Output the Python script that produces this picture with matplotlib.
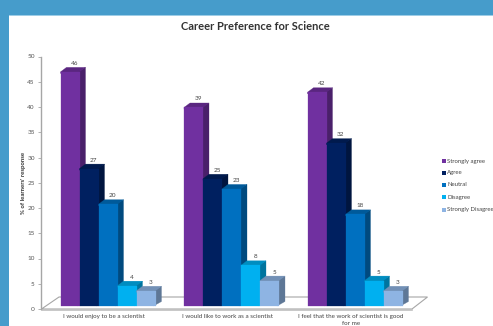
import matplotlib
matplotlib.use("Agg")
import matplotlib.pyplot as plt
from matplotlib.patches import Polygon, Rectangle
from matplotlib.colors import to_rgb

W, H = 493, 326

questions = ["I would enjoy to be a scientist",
             "I would like to work as a scientist",
             "I feel that the work of scientist is good\nfor me"]
levels = ["Strongly agree", "Agree", "Neutral", "Disagree", "Strongly Disagree"]
strongly_agree = [46, 39, 42]
agree = [27, 25, 32]
neutral = [20, 23, 18]
disagree = [4, 8, 5]
strongly_disagree = [3, 5, 3]
series = [strongly_agree, agree, neutral, disagree, strongly_disagree]
colors = ["#7030A0", "#002060", "#0070C0", "#00B0F0", "#8EB4E3"]
yticks = list(range(0, 55, 5))

plt.rcParams["font.family"] = ["Lato", "DejaVu Sans"]
fig = plt.figure(figsize=(W / 100, H / 100), dpi=100, facecolor="#469CCB")


def shade(c, f):
    return tuple(v * f for v in to_rgb(c))


def px_axes(left, top, right, bottom):
    return fig.add_axes([left / W, 1 - bottom / H, (right - left) / W, (bottom - top) / H])


# white slide panel
panel = px_axes(0, 0, W, H)
panel.set_xlim(0, W)
panel.set_ylim(H, 0)
panel.axis("off")
panel.add_patch(Rectangle((9, 14.7), W, H, fc="white", ec="none"))
panel.plot([9, W], [14.5, 14.5], color="#8CC4E2", lw=0.6)

# floor of the 3d box
panel.add_patch(Polygon([(41.5, 309), (59, 297), (427.5, 297), (412, 309)],
                        closed=True, fc="white", ec="#A6A6A6", lw=0.8))
panel.plot([41.5, 412], [310, 310], color="#BFBFBF", lw=1.2)

panel.text(255, 26.5, "Career Preference for Science", ha="center", va="center",
           fontsize=8.0, fontweight="bold", color="#333333")
panel.text(23, 183, "% of learners' response", rotation=90, ha="center", va="center",
           fontsize=4.3, fontweight="bold", color="#333333")

# value axis
ax_y = px_axes(41, 56.5, 42, 309)
ax_y.set_ylim(0, 50)
ax_y.set_xticks([])
ax_y.set_yticks(yticks)
ax_y.patch.set_visible(False)
for s in ["top", "right", "bottom"]:
    ax_y.spines[s].set_visible(False)
ax_y.spines["left"].set_color("#A6A6A6")
ax_y.spines["left"].set_linewidth(1.0)
ax_y.tick_params(axis="y", length=2, width=0.6, color="#A6A6A6", labelsize=4.6,
                 labelcolor="#555555", pad=2.5)

# front plane of the bars, one x unit is one bar width
bar_w = 19.0
group_gap = 6.5
x0 = 60.5
ax = px_axes(x0, 51.5, x0 + bar_w * 20, 306)
ax.set_xlim(0, 20)
ax.set_ylim(0, 50)
ax.axis("off")
dx = 6 / bar_w
dy = 4.5 / 5.09
seam = 0.3  # faces overlap under the front so no white hairline shows

for g in range(len(questions)):
    left = g * group_gap
    for i, vals in enumerate(series):
        v = vals[g]
        c = colors[i]
        xl = left + i
        z = 3 + i
        # side and top faces first, then the front
        side = shade(c, 0.66)
        top = shade(c, 0.8)
        ax.add_patch(Polygon([(xl + 0.9, 0), (xl + 1 + dx, dy), (xl + 1 + dx, v + dy), (xl + 0.9, v)],
                             closed=True, fc=side, ec=side, lw=0.2, zorder=z, clip_on=False))
        ax.add_patch(Polygon([(xl, v - seam), (xl, v), (xl + dx, v + dy), (xl + 1 + dx, v + dy),
                              (xl + 1, v), (xl + 1, v - seam)],
                             closed=True, fc=top, ec=top, lw=0.2, zorder=z, clip_on=False))
        ax.bar(xl + 0.5, v, width=1.0, color=c, edgecolor=c, linewidth=0.2, zorder=z, clip_on=False)
        ax.text(xl + 0.5 + dx * 0.8, v + dy + 0.3, str(v), ha="center", va="bottom",
                fontsize=4.6, color="#444444", zorder=10, clip_on=False)
    panel.text(x0 + bar_w * (left + 2.5) - 4, 314, questions[g], ha="center", va="top",
               fontsize=4.5, color="#444444", linespacing=1.6)

# legend drawn by hand as small squares
legend_y = [161, 172.7, 184.8, 197, 209.5]
for name, c, ly in zip(levels, colors, legend_y):
    panel.add_patch(Rectangle((442, ly - 2), 4, 4, fc=c, ec="none"))
    panel.text(447, ly, name, ha="left", va="center", fontsize=4.3, color="#444444")

fig.savefig("out.png", dpi=100, facecolor=fig.get_facecolor())
